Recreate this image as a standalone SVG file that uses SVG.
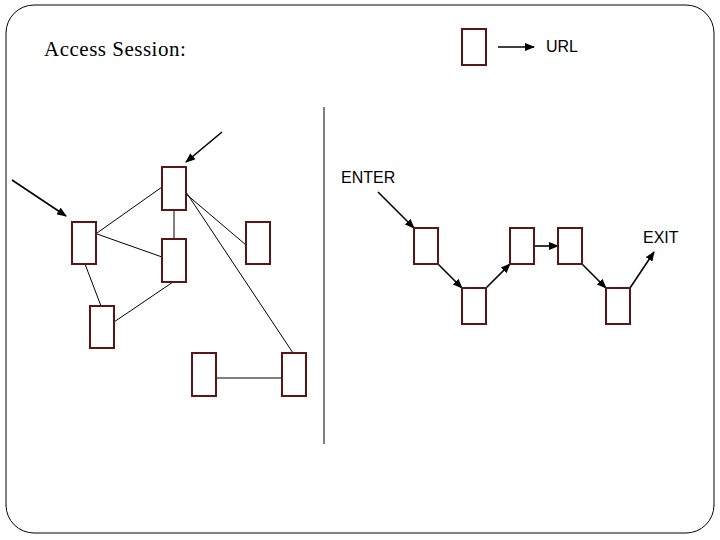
<svg xmlns="http://www.w3.org/2000/svg" width="720" height="540" viewBox="0 0 720 540">
<style>
.n{fill:#fff;stroke:#5c1414;stroke-width:2}
.l{stroke:#000;stroke-width:1;fill:none}
.a{stroke:#000;stroke-width:1.6;fill:none;marker-end:url(#ah)}
.s{font-family:"Liberation Sans",Arial,sans-serif;font-size:16px;fill:#000}
</style>
<defs>
<marker id="ah" markerUnits="userSpaceOnUse" markerWidth="10" markerHeight="8" refX="9" refY="4" orient="auto">
<path d="M0,0 L10,4 L0,8 z" fill="#000"/>
</marker>
</defs>
<rect x="6" y="5" width="708" height="528" rx="28" ry="28" fill="#fff" stroke="#000" stroke-width="1"/>
<text x="44" y="56" font-family="'Liberation Serif','Times New Roman',serif" font-size="21" letter-spacing="0.5" fill="#000">Access Session:</text>
<g id="legend">
<rect class="n" x="462" y="29" width="24" height="36"/>
<text class="s" x="546" y="52">URL</text>
</g>
<line x1="324" y1="107" x2="324" y2="444" stroke="#000" stroke-width="1"/>
<g id="connectors">
<line class="l" x1="97" y1="233" x2="162" y2="187"/>
<line class="l" x1="97" y1="234" x2="162" y2="257"/>
<line class="l" x1="174" y1="210" x2="174" y2="239"/>
<line class="l" x1="85" y1="264" x2="101" y2="306"/>
<line class="l" x1="114" y1="322" x2="173" y2="282"/>
<line class="l" x1="186" y1="194" x2="246" y2="245"/>
<line class="l" x1="186" y1="192" x2="293" y2="353"/>
<line class="l" x1="216" y1="378" x2="282" y2="378"/>
<line class="a" x1="12" y1="180" x2="66" y2="216"/>
<line class="a" x1="222" y1="132" x2="186" y2="162"/>
<line class="a" x1="498" y1="47" x2="534" y2="47"/>
<line class="a" x1="378" y1="192" x2="414" y2="228"/>
<line class="a" x1="438" y1="264" x2="462" y2="288"/>
<line class="a" x1="486" y1="288" x2="510" y2="264"/>
<line class="a" x1="534" y1="246" x2="558" y2="246"/>
<line class="a" x1="582" y1="264" x2="606" y2="288"/>
<line class="a" x1="630" y1="288" x2="654" y2="252"/>
</g>
<g id="nA"><rect class="n" x="72" y="222" width="24" height="42"/></g>
<g id="nB"><rect class="n" x="162" y="167" width="24" height="43"/></g>
<g id="nC"><rect class="n" x="162" y="239" width="24" height="43"/></g>
<g id="nD"><rect class="n" x="246" y="222" width="24" height="42"/></g>
<g id="nE"><rect class="n" x="90" y="306" width="24" height="42"/></g>
<g id="nF"><rect class="n" x="192" y="353" width="24" height="43"/></g>
<g id="nG"><rect class="n" x="282" y="353" width="24" height="43"/></g>
<g id="r1"><rect class="n" x="414" y="228" width="24" height="36"/></g>
<g id="r2"><rect class="n" x="462" y="288" width="24" height="36"/></g>
<g id="r3"><rect class="n" x="510" y="228" width="24" height="36"/></g>
<g id="r4"><rect class="n" x="558" y="228" width="24" height="36"/></g>
<g id="r5"><rect class="n" x="606" y="288" width="24" height="36"/></g>
<text class="s" x="341" y="183">ENTER</text>
<text class="s" x="643" y="243">EXIT</text>
</svg>
